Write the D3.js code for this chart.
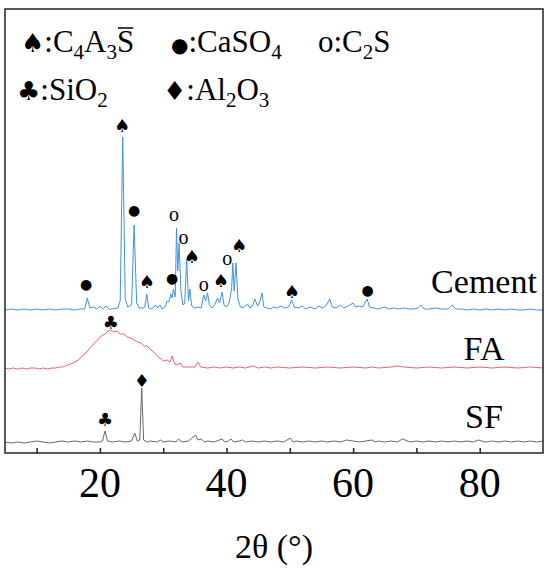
<!DOCTYPE html>
<html>
<head>
<meta charset="utf-8">
<script src="https://cdn.jsdelivr.net/npm/d3@7"></script>
<style>
  body { margin: 0; background: #fff; }
  svg { display: block; }
  text { font-family: "Liberation Serif", "Times New Roman", Times, Tinos, "Nimbus Roman", "FreeSerif", "Noto Serif", "DejaVu Serif", serif; }
</style>
</head>
<body>
<div id="chart"></div>
<script>
// ---------------------------------------------
// XRD patterns, [2theta, intensity a.u.]

var cement = [
  [5,1],[6,2],[7,1],[8,2],[9,1],[10,2],[11,1],[12,2],[13,1],[14,2],[15,2],[16,1],[17,2],
  [17.6,2],[18.0,13],[18.4,3],[19,4],[19.5,2],[20.0,5],[20.4,2],[21,5],[21.4,2],[22,2],[22.8,3],
  [23.2,10],[23.6,174],[24.0,12],[24.4,4],[25.0,6],[25.4,86],[25.8,8],[26.2,3],[26.8,3],[27.1,4],
  [27.4,17],[27.7,3],[28.2,2],[28.8,6],[29.1,3],[29.5,6],[29.8,2],[30.3,4],[30.6,10],[30.9,9],
  [31.2,17],[31.4,13],[31.6,22],[31.9,14],[32.1,83],[32.3,40],[32.5,68],[32.8,20],[33.1,6],[33.4,8],
  [33.7,52],[34.0,10],[34.2,22],[34.5,5],[35.0,3],[35.5,4],[36.0,3],[36.4,16],[36.7,10],[37.0,18],
  [37.3,6],[37.7,3],[38.1,6],[38.6,13],[38.9,8],[39.3,19],[39.6,6],[40.0,4],[40.4,8],[40.8,22],
  [41.0,48],[41.2,20],[41.5,48],[41.8,12],[42.2,4],[42.6,3],[43.3,7],[43.7,3],[44.1,5],[44.5,12],
  [44.9,5],[45.2,8],[45.6,18],[45.9,4],[46.4,3],[47,2],[47.3,4],[48,3],[48.6,5],[49.2,3],[49.8,4],
  [50.3,11],[50.7,4],[51.3,3],[52,5],[52.5,2],[53.2,4],[54,2],[54.6,5],[55.2,3],[55.8,6],[56.3,12],
  [56.7,4],[57.3,3],[58,6],[58.5,3],[59.2,5],[60.0,8],[60.4,4],[61.0,5],[61.5,4],[62.2,12],[62.6,4],
  [63.3,3],[64,2],[65,4],[65.6,2],[66.5,3],[67.2,2],[68,3],[68.8,2],[69.5,2],[70.2,3],[70.7,6],
  [71.2,2],[72,2],[73,3],[74,2],[75,2],[75.7,6],[76.2,2],[77,2],[78,1],[79,2],[80,1],[81,2],[82,1],
  [83,2],[84,1],[85,2],[86,1],[87,1],[88,2],[89,1],[90,1]
];

var fa = [
  [5,1],[5.6,0],[6.3,1],[7,0],[7.7,1],[8.4,0],[9,1],[9.7,1],[10.4,0],[11,1],[11.7,0],[12.4,1],
  [13,1],[13.6,2],[14.2,2],[14.8,4],[15.4,5],[16,7],[16.6,9],[17.2,13],[17.8,16],[18.4,21],
  [19,25],[19.6,29],[20.2,33],[20.8,35],[21.3,38],[21.7,39],[22.2,37],[22.7,38],[23.2,35],
  [23.8,35],[24.3,32],[24.9,31],[25.4,29],[26,27],[26.5,26],[27,23],[27.5,23],[27.9,20],
  [28.5,17],[29.2,12],[29.7,10],[30,8],[30.6,9],[31.1,7],[31.4,13],[31.8,5],[32.2,4],[32.7,6],
  [33.1,2],[34,2],[35,2],[35.5,7],[35.9,2],[37,1],[38,2],[39,1],[40,2],[41,1],[42,2],[43,1],
  [44.2,3],[45,1],[46,2],[47,1],[48,2],[50,1],[52,2],[54,1],[56,2],[58,1],[60,2],[62,1],[63,2],
  [64,1],[66,2],[67,3],[68,2],[70,1],[72,2],[74,1],[76,2],[78,1],[80,2],[82,1],[84,2],[86,1],
  [88,2],[90,1]
];

var sf = [
  [5,1],[6,0],[7,1],[8,0],[9,1],[10,2],[11,1],[12,0],[13,1],[14,2],[15,1],[16,2],[17,1],[18,2],
  [19,1],[20,1],[20.4,2],[20.8,12],[21.2,2],[22,1],[23,2],[24,1],[25,2],[25.5,10],[25.9,2],
  [26.3,3],[26.6,55],[26.9,3],[27.5,1],[28,2],[29,1],[29.6,3],[30,1],[31,2],[32,1],[32.4,4],
  [33,1],[34,2],[35.1,8],[35.5,3],[36,4],[36.5,1],[37,2],[38,1],[39.3,4],[39.7,1],[40.3,2],
  [40.7,4],[41.2,1],[42,2],[42.5,3],[43,1],[44,2],[45,1],[46,2],[47,1],[48,2],[49,1],[50.1,5],
  [50.5,1],[51,2],[52,1],[53,2],[54,1],[55,2],[56,1],[57,2],[58,1],[59,3],[60,2],[61,1],[62,2],
  [63,3],[63.5,1],[64,2],[65,1],[66,2],[67,1],[67.8,4],[68.2,3],[69,1],[70,2],[71,1],[72,2],
  [73,1],[74,2],[75,1],[76,2],[77,1],[78,2],[79,1],[79.8,3],[80.3,2],[81,1],[82,2],[83,1],
  [84,2],[85,1],[86,2],[87,1],[88,2],[89,1],[90,2]
];

var seriesNames   = ["Cement", "FA", "SF"];
var seriesOffsets = [142, 84, 10];   // vertical stacking of the patterns (a.u.)

// phase marks: [2theta, phase, level above the pattern]
var cementMarks = [
  [17.8,"dot",27],[23.5,"spade",186],[25.4,"dot",101],[27.4,"spade",30],[31.4,"dot",33],
  [31.7,"o",97],[33.2,"o",74],[34.5,"spade",55],[36.4,"o",27],[39.1,"spade",31],
  [40.1,"o",53],[42.0,"spade",66],[50.3,"spade",20],[62.3,"dot",21]
];
var faMarks = [[21.7,"club",47]];
var sfMarks = [[20.8,"club",24],[26.6,"diamond",63]];

var majorTicks = [20, 40, 60, 80];
var minorTicks = [10, 30, 50, 70];
var xTitle = "2\u03b8 (\u00b0)";

var glyphs = { spade: "\u2660", dot: "\u25cf", o: "o", club: "\u2663", diamond: "\u2666" };

///////////////////////////////////////////////

var W = 550, H = 572;
var margin = { top: 9, right: 7, bottom: 119, left: 5 };

var x = d3.scaleLinear().domain([5, 90]).range([margin.left, W - margin.right]);
var y = d3.scaleLinear().domain([0, 444]).range([H - margin.bottom, margin.top]);

var svg = d3.select("#chart").append("svg")
    .attr("width", W)
    .attr("height", H);

var sym = "'DejaVu Sans', sans-serif";
var colors = ["#3f94e0", "#e8646f", "#686868"];
var allData = [cement, fa, sf];
var allMarks = [cementMarks, faMarks, sfMarks];

// ---------------
// patterns
var line = d3.line();
allData.forEach(function(d, i) {
    line.x(function(p) { return x(p[0]); })
        .y(function(p) { return y(p[1] + seriesOffsets[i]); });
    svg.append("path")
        .datum(d)
        .attr("fill", "none")
        .attr("stroke", colors[i])
        .attr("stroke-width", 1)
        .attr("stroke-linejoin", "round")
        .attr("d", line);
});

// ---------------
// phase marks
allMarks.forEach(function(marks, i) {
    svg.selectAll(null)
        .data(marks)
        .enter()
        .append("text")
        .attr("x", function(d) { return x(d[0]); })
        .attr("y", function(d) { return y(d[2] + seriesOffsets[i]); })
        .attr("text-anchor", "middle")
        .attr("dominant-baseline", "central")
        .style("font-family", function(d) { return d[1] == "o" ? null : sym; })
        .style("font-size", function(d) {
            return d[1] == "o" ? "20px" : (d[1] == "dot" ? "14px" : "18px");
        })
        .attr("fill", "#000")
        .text(function(d) { return glyphs[d[1]]; });
});

// ---------------
// sample names
var nameY = [293, 360, 428];
seriesNames.forEach(function(n, i) {
    svg.append("text")
        .attr("x", 484)
        .attr("y", nameY[i])
        .attr("text-anchor", "middle")
        .style("font-size", "34px")
        .text(n);
});

// ---------------
// axis + frame
var axisG = svg.append("g")
    .attr("transform", "translate(0," + y(0) + ")")
    .call(d3.axisBottom(x)
        .tickValues(majorTicks.concat(minorTicks))
        .tickSizeInner(-5)
        .tickSizeOuter(0)
        .tickFormat(""));
axisG.select(".domain").remove();
axisG.selectAll(".tick line").attr("stroke", "#222").attr("stroke-width", 1.5);

svg.selectAll(".ticklab")
    .data(majorTicks)
    .enter()
    .append("text")
    .attr("x", function(d) { return x(d); })
    .attr("y", 497)
    .attr("text-anchor", "middle")
    .style("font-size", "42px")
    .text(function(d) { return d; });

svg.append("text")
    .attr("x", 274)
    .attr("y", 558)
    .attr("text-anchor", "middle")
    .style("font-size", "34px")
    .text(xTitle);

svg.append("rect")
    .attr("x", x(5))
    .attr("y", y(444))
    .attr("width", x(90) - x(5))
    .attr("height", y(0) - y(444))
    .attr("fill", "none")
    .attr("stroke", "#222")
    .attr("stroke-width", 1.5);

// ---------------
// legend (parts: [text, 0 normal / 1 subscript / 2 overlined])
var legend = [
    { g: "spade",   x: 21,  y: 52,  parts: [[":C",0],["4",1],["A",0],["3",1],["S",2]] },
    { g: "dot",     x: 171, y: 52,  parts: [[":CaSO",0],["4",1]] },
    { g: "o",       x: 318, y: 52,  parts: [[":C",0],["2",1],["S",0]] },
    { g: "club",    x: 17,  y: 100, parts: [[":SiO",0],["2",1]] },
    { g: "diamond", x: 163, y: 100, parts: [[":Al",0],["2",1],["O",0],["3",1]] }
];

legend.forEach(function(item) {
    var t = svg.append("text")
        .attr("x", item.x)
        .attr("y", item.y)
        .style("font-size", "31px");
    t.append("tspan")
        .style("font-family", item.g == "o" ? null : sym)
        .style("font-size", item.g == "o" ? "31px" : (item.g == "dot" ? "20px" : "26px"))
        .text(glyphs[item.g]);
    var shift = 0, nChar = glyphs[item.g].length, over = [];
    item.parts.forEach(function(p) {
        var dy = (p[1] == 1 ? 7 : 0) - shift;
        shift += dy;
        var ts = t.append("tspan").attr("dy", dy).text(p[0]);
        if (p[1] == 1) ts.style("font-size", "21px");
        if (p[1] == 2) over.push(nChar);
        nChar += p[0].length;
    });
    over.forEach(function(ci) {
        var node = t.node();
        var s = node.getStartPositionOfChar(ci), e = node.getEndPositionOfChar(ci);
        svg.append("line")
            .attr("x1", s.x + 1).attr("x2", e.x - 1)
            .attr("y1", item.y - 24).attr("y2", item.y - 24)
            .attr("stroke", "#000").attr("stroke-width", 1.5);
    });
});
</script>
</body>
</html>
